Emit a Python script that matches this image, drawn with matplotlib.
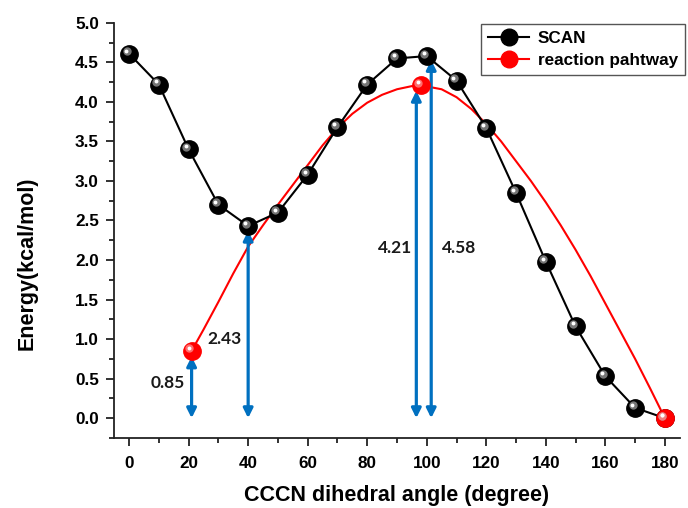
import matplotlib
matplotlib.use("Agg")
import matplotlib.pyplot as plt
from matplotlib.lines import Line2D
from matplotlib.ticker import MultipleLocator, FormatStrFormatter
from matplotlib.transforms import offset_copy

# SCAN energies (kcal/mol) vs CCCN dihedral (degree)
scan_angle = [0, 10, 20, 30, 40, 50, 60, 70, 80, 90, 100, 110, 120, 130, 140, 150, 160, 170, 180]
scan_energy = [4.61, 4.22, 3.40, 2.70, 2.43, 2.60, 3.08, 3.68, 4.22, 4.55, 4.58, 4.27, 3.67,
               2.85, 1.98, 1.16, 0.53, 0.13, 0.0]

# reaction pathway curve
path_angle = [21, 25, 30, 35, 40, 45, 50, 55, 60, 65, 70, 75, 80, 85, 90, 95, 98,
              105, 110, 115, 120, 125, 130, 135, 140, 145, 150, 155, 160, 165, 170, 175, 180]
path_energy = [0.85, 1.12, 1.47, 1.83, 2.17, 2.44, 2.70, 2.95, 3.20, 3.45, 3.67, 3.85, 3.99,
               4.09, 4.16, 4.20, 4.21, 4.16, 4.06, 3.91, 3.72, 3.50, 3.25, 3.00, 2.73, 2.44,
               2.13, 1.80, 1.45, 1.10, 0.75, 0.38, 0.0]

# stationary points on the pathway
stat_angle = [21, 98, 180]
stat_energy = [0.85, 4.21, 0.0]

# double arrows: x position, height, label, label position
arrow_x = [21, 40, 96.5, 101.5]
arrow_top = [0.78, 2.37, 4.14, 4.53]
arrow_labels = ["0.85", "2.43", "4.21", "4.58"]
label_x = [13, 32, 89.5, 111]
label_y = [0.45, 1.0, 2.15, 2.15]

BLUE = "#0070C0"

fig = plt.figure(figsize=(6.88, 5.08), dpi=100)
ax = fig.add_axes([0.166, 0.138, 0.822, 0.817])

ax.plot(scan_angle, scan_energy, color="black", lw=1.5, zorder=3)
ax.plot(path_angle, path_energy, color="red", lw=1.5, zorder=2)


def spheres(x, y, base, mid, hi):
    ax.plot(x, y, "o", ms=12.5, color=base, mec=base, zorder=4)
    t1 = offset_copy(ax.transData, fig=fig, x=-1.8, y=1.8, units="points")
    ax.plot(x, y, "o", ms=6, color=mid, mec="none", transform=t1, zorder=5, alpha=0.85)
    t2 = offset_copy(ax.transData, fig=fig, x=-2.2, y=2.2, units="points")
    ax.plot(x, y, "o", ms=2.8, color=hi, mec="none", transform=t2, zorder=6)


spheres(scan_angle, scan_energy, "black", "#8a8a8a", "white")
spheres(stat_angle, stat_energy, "#ff0000", "#ff8080", "white")

for xa, top, lab, lx, ly in zip(arrow_x, arrow_top, arrow_labels, label_x, label_y):
    ax.annotate("", xy=(xa, top), xytext=(xa, 0.0),
                arrowprops=dict(arrowstyle="<|-|>", color=BLUE, lw=2.3,
                                mutation_scale=14, shrinkA=0, shrinkB=0), zorder=3)
    ax.text(lx, ly, lab, ha="center", va="center", fontsize=12.5,
            fontweight="bold", family="Lato", color="#1a1a1a")

ax.set_xlim(-5, 185)
ax.set_ylim(-0.25, 5.0)
ax.xaxis.set_major_locator(MultipleLocator(20))
ax.xaxis.set_minor_locator(MultipleLocator(10))
ax.yaxis.set_major_locator(MultipleLocator(0.5))
ax.yaxis.set_minor_locator(MultipleLocator(0.25))
ax.yaxis.set_major_formatter(FormatStrFormatter("%.1f"))
ax.tick_params(which="both", direction="out", width=1.3, color="#222222")
ax.tick_params(which="major", length=6)
ax.tick_params(which="minor", length=3.5)
ax.tick_params(axis="x", pad=7)
ax.tick_params(axis="y", pad=5)
for lab in ax.get_xticklabels() + ax.get_yticklabels():
    lab.set_family("Liberation Sans")
    lab.set_fontweight("bold")
    lab.set_fontsize(12.3)
ax.spines["top"].set_visible(False)
ax.spines["right"].set_visible(False)
for s in ("left", "bottom"):
    ax.spines[s].set_linewidth(1.3)
    ax.spines[s].set_color("#222222")

ax.set_xlabel("CCCN dihedral angle (degree)", fontsize=15.5, fontweight="bold",
              family="Liberation Sans")
ax.xaxis.set_label_coords(0.5, -0.113)
ax.set_ylabel("Energy(kcal/mol)", fontsize=15.5, fontweight="bold",
              family="Liberation Sans")
ax.yaxis.set_label_coords(-0.135, 0.42)

handles = [
    Line2D([0], [0], color="black", lw=1.5, marker="o", ms=12, mfc="black", mec="black"),
    Line2D([0], [0], color="red", lw=1.5, marker="o", ms=12, mfc="red", mec="red"),
]
leg = ax.legend(handles, ["SCAN", "reaction pahtway"], loc="upper right",
                bbox_to_anchor=(0.995, 0.952), bbox_transform=fig.transFigure,
                fancybox=False, framealpha=1, edgecolor="#555555", handlelength=2.4,
                borderpad=0.4, labelspacing=0.4, handletextpad=0.5, borderaxespad=0,
                prop={"family": "Liberation Sans", "weight": "bold", "size": 12.3})
leg.get_frame().set_linewidth(1.0)

fig.savefig("out.png", dpi=100)
